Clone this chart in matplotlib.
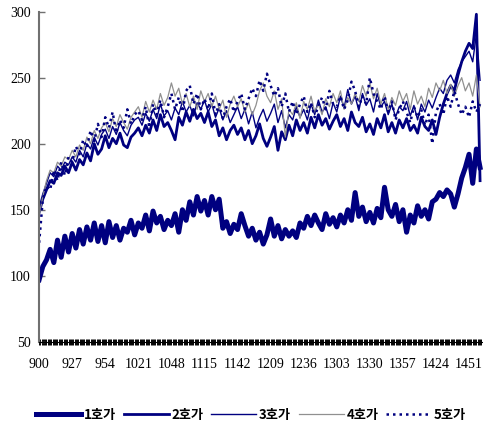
import numpy as np
import matplotlib
matplotlib.use("Agg")
import matplotlib.pyplot as plt

# 호가별 가격 추이 (3분 간격으로 읽은 값, 09:00 ~ 15:00)
step_min = 3
time_labels = ['900', '927', '954', '1021', '1048', '1115', '1142',
               '1209', '1236', '1303', '1330', '1357', '1424', '1451']
tick_every = 27  # minutes between labels

hoga1 = [97, 107, 112, 120, 110, 127, 114, 130, 118,
         132, 121, 135, 124, 137, 127, 140, 126, 138,
         125, 141, 129, 138, 127, 136, 133, 142, 131,
         140, 136, 146, 134, 149, 140, 145, 135, 142,
         138, 147, 133, 150, 142, 156, 146, 160, 149,
         157, 146, 160, 150, 158, 136, 141, 132, 139,
         135, 147, 138, 130, 136, 127, 133, 124, 131,
         143, 130, 138, 128, 135, 130, 134, 129, 140,
         136, 145, 138, 146, 140, 135, 147, 139, 144,
         137, 146, 140, 150, 142, 163, 145, 152, 141,
         148, 140, 151, 144, 167, 150, 145, 154, 141,
         150, 133, 146, 140, 153, 145, 150, 143, 156,
         158, 163, 160, 165, 162, 152, 162, 174, 182,
         192, 170, 196, 182]

hoga2 = [148, 158, 165, 172, 170, 178, 176, 183, 178,
         186, 180, 188, 184, 193, 187, 200, 192, 196,
         206, 197, 204, 200, 208, 199, 197, 205, 208,
         212, 206, 214, 208, 218, 210, 222, 213, 216,
         210, 203, 220, 214, 224, 217, 226, 219, 223,
         216, 224, 213, 218, 206, 212, 203, 210, 214,
         207, 212, 203, 210, 200, 206, 215, 204, 198,
         205, 213, 195, 209, 203, 214, 206, 218, 210,
         216, 208, 220, 212, 222, 214, 219, 211, 217,
         222, 213, 219, 210, 224, 216, 213, 220, 209,
         215, 207, 219, 212, 222, 209, 216, 208, 218,
         212, 219, 210, 214, 208, 220, 213, 210, 218,
         207, 220, 230, 238, 244, 240, 252, 262, 270,
         276, 272, 298, 172]

hoga3 = [152, 162, 170, 178, 175, 183, 180, 186, 184,
         190, 186, 195, 190, 200, 196, 205, 199, 207,
         211, 204, 213, 207, 216, 210, 206, 214, 218,
         220, 214, 223, 217, 226, 219, 230, 221, 225,
         218, 227, 222, 232, 224, 229, 221, 231, 226,
         233, 224, 230, 220, 227, 218, 225, 216, 222,
         228, 219, 226, 215, 224, 212, 220, 226, 217,
         223, 230, 216, 225, 212, 222, 218, 228, 220,
         226, 218, 230, 222, 233, 224, 228, 219, 231,
         224, 236, 227, 241, 230, 236, 225, 238, 229,
         234, 224, 238, 228, 232, 222, 230, 220, 228,
         225, 232, 221, 229, 218, 230, 224, 233, 227,
         235, 242, 238, 248, 252, 246, 256, 262, 266,
         270, 262, 283, 248]

hoga4 = [145, 160, 172, 180, 178, 186, 183, 190, 188,
         195, 190, 199, 195, 205, 200, 210, 204, 212,
         216, 209, 219, 213, 222, 216, 211, 220, 224,
         228, 220, 232, 224, 233, 226, 238, 229, 235,
         246, 236, 242, 230, 238, 228, 236, 226, 240,
         232, 238, 228, 236, 226, 233, 220, 230, 236,
         228, 234, 224, 231, 222, 229, 240, 246, 236,
         231, 240, 226, 234, 205, 226, 222, 231, 219,
         232, 226, 236, 224, 230, 222, 234, 228, 238,
         231, 240, 226, 235, 230, 238, 232, 244, 236,
         246, 234, 242, 230, 238, 226, 235, 229, 240,
         232, 238, 226, 240, 230, 236, 228, 242, 235,
         246, 240, 248, 238, 245, 236, 244, 250, 240,
         246, 236, 252, 228]

hoga5 = [125, 158, 168, 165, 180, 172, 186, 176, 190,
         186, 198, 192, 203, 197, 210, 202, 215, 205,
         220, 212, 224, 208, 218, 212, 226, 215, 222,
         225, 218, 228, 212, 230, 222, 233, 220, 228,
         238, 226, 235, 224, 240, 244, 230, 238, 226,
         234, 226, 238, 222, 230, 219, 228, 234, 224,
         232, 238, 226, 234, 242, 236, 248, 240, 253,
         244, 236, 242, 228, 238, 224, 232, 222, 230,
         236, 224, 231, 220, 229, 235, 226, 240, 230,
         228, 236, 226, 233, 247, 240, 228, 236, 230,
         250, 238, 232, 226, 236, 224, 232, 218, 226,
         232, 224, 216, 228, 220, 226, 214, 222, 200,
         224, 230, 222, 236, 228, 240, 230, 222, 228,
         220, 232, 224, 230]

series_names = ['1호가', '2호가', '3호가', '4호가', '5호가']

navy = '#000080'
minutes = np.arange(len(hoga1)) * step_min

fig = plt.figure(figsize=(4.83, 4.30), dpi=100)
ax = fig.add_axes([0.081, 0.205, 0.919, 0.768])

ax.plot(minutes, hoga1, color=navy, lw=3.6, label=series_names[0], solid_joinstyle='round')
ax.plot(minutes, hoga2, color=navy, lw=2.0, label=series_names[1])
ax.plot(minutes, hoga3, color=navy, lw=1.0, label=series_names[2])
ax.plot(minutes, hoga4, color='#909090', lw=0.9, label=series_names[3])
ax.plot(minutes, hoga5, color=navy, lw=1.8, ls=(0, (1, 1.6)), label=series_names[4])

ax.set_ylim(50, 300)
ax.set_xlim(0, 362.4)
ax.set_yticks(np.arange(50, 301, 50))
ax.set_xticks(np.arange(len(time_labels)) * tick_every)
ax.set_xticklabels(time_labels)
ax.set_xticks(np.arange(0, 363, 1), minor=True)

for lab in ax.get_xticklabels() + ax.get_yticklabels():
    lab.set_fontfamily('Liberation Serif')
    lab.set_fontsize(10)

ax.tick_params(axis='y', direction='in', length=4, width=1, color='#707070', pad=6)
ax.tick_params(axis='x', which='major', direction='inout', length=5, width=0.7, color='black', pad=9)
ax.tick_params(axis='x', which='minor', direction='inout', length=5, width=0.7, color='black')

for side in ['top', 'right']:
    ax.spines[side].set_visible(False)
ax.spines['left'].set_color('#707070')
ax.spines['left'].set_linewidth(1.5)
ax.spines['bottom'].set_color('black')
ax.spines['bottom'].set_linewidth(0.8)

leg = fig.legend(loc='center', bbox_to_anchor=(0.52, 0.035), ncol=5, frameon=False,
                 handlelength=3.4, handletextpad=0.2, columnspacing=0.6,
                 prop={'family': ['Noto Sans CJK KR', 'DejaVu Sans'], 'weight': 'bold', 'size': 9.5})

fig.savefig('out.png', dpi=100)
